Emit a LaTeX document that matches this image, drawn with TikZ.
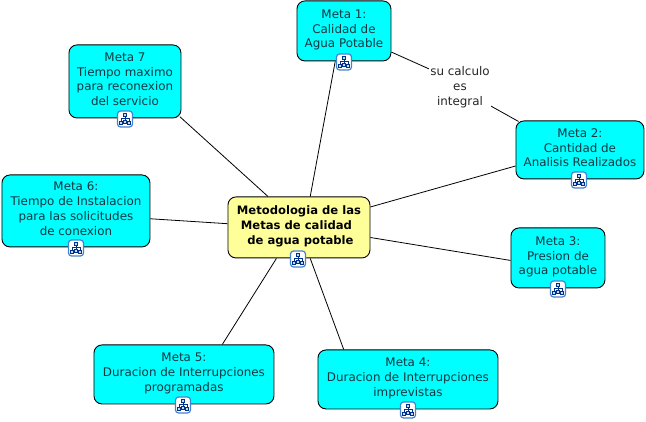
\documentclass[tikz,border=0pt]{standalone}
\usepackage{fontspec}
\setmainfont{DejaVu Sans}
\usetikzlibrary{backgrounds}
\definecolor{metacyan}{RGB}{0,255,255}
\definecolor{rootyellow}{RGB}{255,255,153}
\definecolor{icoblue}{RGB}{70,130,210}
\definecolor{icodark}{RGB}{0,50,140}
\definecolor{metatext}{RGB}{20,55,65}
\tikzset{
  x=1pt,y=-1pt,
  boxbase/.style={draw=black,line width=0.9pt,rounded corners=8pt,inner sep=0pt,align=center,font=\fontsize{11.9}{14.8}\selectfont,anchor=north west,text depth=4.5pt},
  metabox/.style={boxbase,fill=metacyan,text=metatext},
  rootbox/.style={boxbase,fill=rootyellow,text=black,font=\fontsize{11.6}{14.8}\selectfont\bfseries},
  linkline/.style={draw=black,line width=0.8pt},
  linklabel/.style={font=\fontsize{11.9}{14.8}\selectfont,align=center,inner xsep=1pt,inner ysep=2pt,fill=white,text=black!85},
  iconbox/.style={draw=icoblue,fill=white,line width=1.2pt,rounded corners=3pt,minimum width=15pt,minimum height=16pt,inner sep=0pt},
  icosq/.style={draw=icodark,fill=icoblue!30,line width=0.7pt},
  pics/hier/.style={code={
    \node[iconbox] at (0,0) {};
    \draw[icodark,line width=0.6pt] (0,-3) -- (0,3) (-4,2) -- (-4,-1) -- (4,-1) -- (4,2);
    \draw[icosq] (-1.5,-6) rectangle (1.5,-3);
    \draw[icosq] (-5.5,2.5) rectangle (-2.5,5.5);
    \draw[icosq] (2.5,2.5) rectangle (5.5,5.5);
    \draw[icosq] (-1.5,1) rectangle (1.5,4);
  }}
}
\begin{document}
\begin{tikzpicture}
\useasboundingbox (0,0) rectangle (646,422);
\node[metabox,minimum width=94pt,minimum height=60pt] (m1) at (296.5,0.5) {Meta 1:\\Calidad de\\Agua Potable};
\node[metabox,minimum width=128pt,minimum height=58pt] (m2) at (515.5,120.5) {Meta 2:\\Cantidad de\\Analisis Realizados};
\node[metabox,minimum width=94pt,minimum height=60pt] (m3) at (510.5,227.5) {Meta 3:\\Presion de\\agua potable};
\node[metabox,minimum width=180pt,minimum height=59pt] (m4) at (317.5,349.5) {Meta 4:\\Duracion de Interrupciones\\imprevistas};
\node[metabox,minimum width=180pt,minimum height=59pt] (m5) at (93.5,344.5) {Meta 5:\\Duracion de Interrupciones\\programadas};
\node[metabox,minimum width=148pt,minimum height=72pt] (m6) at (1.5,174.5) {Meta 6:\\Tiempo de Instalacion\\para las solicitudes\\de conexion};
\node[metabox,minimum width=112pt,minimum height=73pt] (m7) at (68.5,44.5) {Meta 7\\Tiempo maximo\\para reconexion\\del servicio};
\node[rootbox,minimum width=142pt,minimum height=61pt] (root) at (227.5,196.5) {Metodologia de las\\\kern-5pt Metas de calidad\\\kern3pt de agua potable};
\node[linklabel] (lab) at (460,87.5) {su calculo\\es\\integral};
\pic at (344,62) {hier};
\pic at (298,259) {hier};
\pic at (579,180) {hier};
\pic at (558,289) {hier};
\pic at (408,410) {hier};
\pic at (183,405) {hier};
\pic at (76,248) {hier};
\pic at (125,119) {hier};
\begin{pgfonlayer}{background}
\draw[linkline] (root.70.2) -- (m1.254.4);
\draw[linkline] (root.16.8) -- (m2.194.9);
\draw[linkline] (root.-8.4) -- (m3.183.7);
\draw[linkline] (root.-70.2) -- (m4.155.6);
\draw[linkline] (root.234.2) -- (m5.38.6);
\draw[linkline] (root.177.2) -- (m6.-6.9);
\draw[linkline,shorten >=-2pt] (root.135.5) -- (m7.-33.1);
\draw[linkline] (m1.-24.1) -- (lab.149.6);
\draw[linkline,shorten >=-2pt] (lab.-31.5) -- (m2.155.6);
\end{pgfonlayer}
\end{tikzpicture}
\end{document}
